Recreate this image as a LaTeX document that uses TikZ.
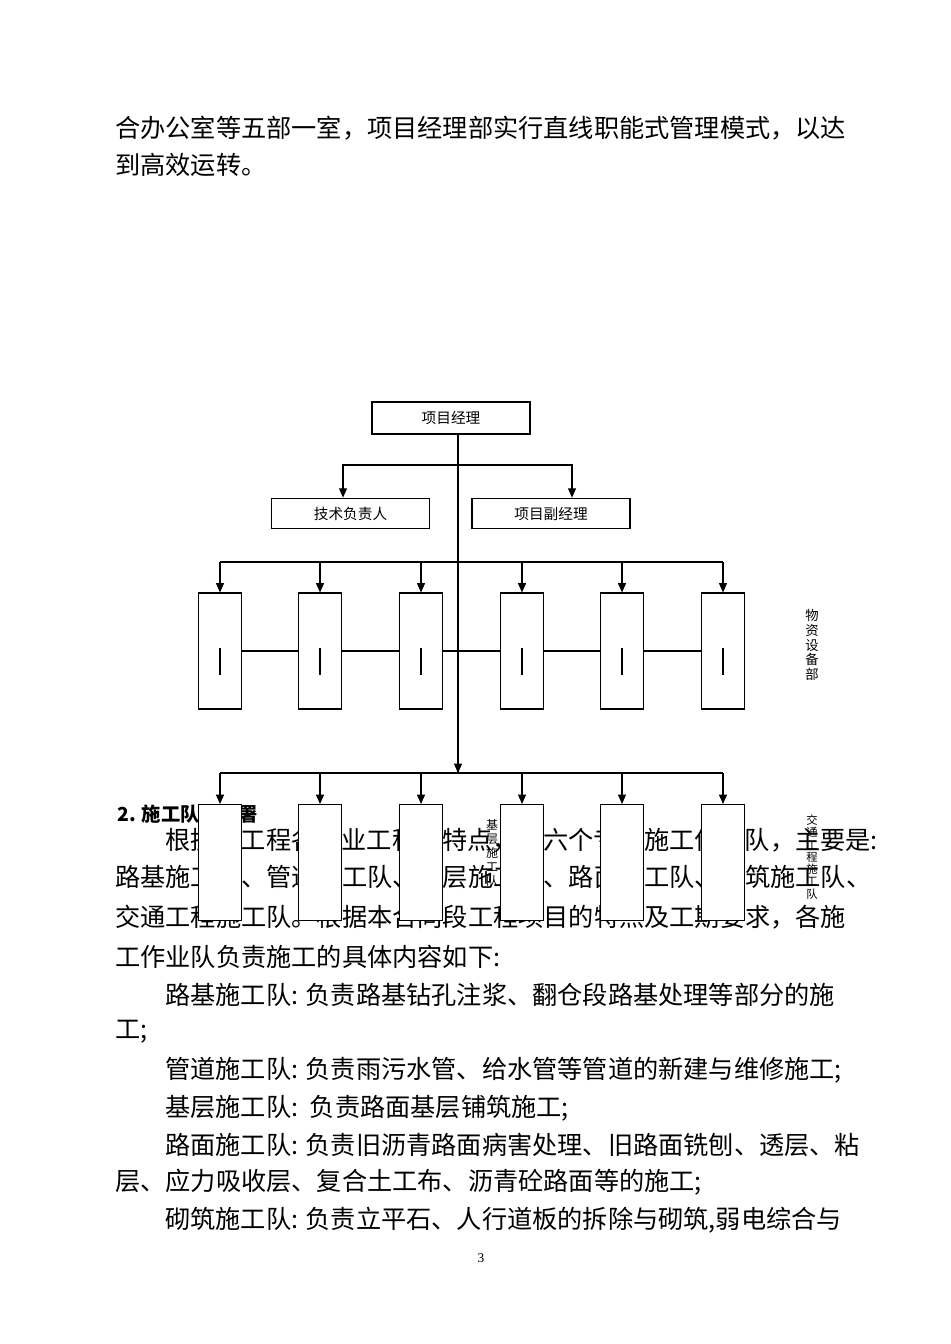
\documentclass[tikz,border=0pt]{standalone}
\usepackage{fontspec}
\setmainfont{Liberation Serif}
\newfontfamily\cjk{Noto Sans CJK SC}
\usetikzlibrary{arrows.meta}
\begin{document}
\begin{tikzpicture}[x=0.75pt,y=-0.75pt,
  body/.style={anchor=west,inner sep=0pt,font=\cjk\fontsize{18.9}{20}\selectfont},
  bx/.style={draw,line width=0.8pt,fill=white,inner sep=0pt,font=\cjk\fontsize{11}{13}\selectfont},
  col/.style={bx,minimum width=32pt,minimum height=87pt},
  ln/.style={line width=0.8pt},
  ar/.style={ln,-{Triangle[length=7pt,width=6pt]}},
  vt/.style={align=center,inner sep=0pt,font=\cjk\fontsize{10}{11}\selectfont}]
\useasboundingbox (0,0) rectangle (950,1344);
% body text
\node[body] (t1) at (115,128) {合办公室等五部一室，项目经理部实行直线职能式管理模式，以达};
\node[body] (t2) at (115,165) {到高效运转。};
\node[anchor=west,inner sep=0pt,font=\cjk\bfseries\fontsize{14.5}{16}\selectfont] (h2) at (117,814) {2. 施工队伍部署};
\node[body] (t3) at (165,840) {根据本工程各专业工程的特点，设六个专业施工作业队，主要是:};
\node[body] (t4) at (115,877) {路基施工队、管道施工队、基层施工队、路面施工队、砌筑施工队、};
\node[body] (t5) at (115,917) {交通工程施工队。根据本合同段工程项目的特点及工期要求，各施};
\node[body] (t6) at (115,957) {工作业队负责施工的具体内容如下:};
\node[body] (t7) at (165,995) {路基施工队: 负责路基钻孔注浆、翻仓段路基处理等部分的施};
\node[body] (t8) at (115,1032) {工;};
\node[body] (t9) at (165,1070) {管道施工队: 负责雨污水管、给水管等管道的新建与维修施工;};
\node[body] (t10) at (165,1108) {基层施工队: \,负责路面基层铺筑施工;};
\node[body] (t11) at (165,1145) {路面施工队: 负责旧沥青路面病害处理、旧路面铣刨、透层、粘};
\node[body] (t12) at (115,1182) {层、应力吸收层、复合土工布、沥青砼路面等的施工;};
\node[body] (t13) at (165,1220) {砌筑施工队: 负责立平石、人行道板的拆除与砌筑,弱电综合与};
\node[inner sep=0pt,font=\fontsize{10}{12}\selectfont] (pg) at (481,1258) {3};
% diagram
\node[bx,minimum width=118.5pt,minimum height=24pt] (pm) at (451,418) {项目经理};
\node[bx,minimum width=119pt,minimum height=23pt] (tech) at (350.5,513.5) {技术负责人};
\node[bx,minimum width=118.5pt,minimum height=23pt] (dep) at (551,513.5) {项目副经理};
\coordinate (c1) at (458,465);
\coordinate (c2) at (458,562);
\coordinate (c3) at (458,773);
\draw[ln] (pm.south -| c1) -- (c3);
\draw[ar] (c1) -| (tech.north -| 343,0);
\draw[ar] (c1) -| (dep.north -| 572,0);
\foreach \i/\x in {1/220,2/320,3/421,4/522,5/622,6/723}{
  \node[col] (u\i) at (\x,651) {};
  \draw[ln] (\x,648) -- (\x,675);
  \node[col] (l\i) at (\x,862.5) {};
}
\draw[ln] (u1) -- (u2) -- (u3) -- (u4) -- (u5) -- (u6);
\draw[ln] (u1.north |- c2) -- (u6.north |- c2);
\draw[ln] (l1.north |- c3) -- (l6.north |- c3);
\foreach \i in {1,...,6}{
  \draw[ar] (u\i.north |- c2) -- (u\i.north);
  \draw[ar] (l\i.north |- c3) -- (l\i.north);
}
\draw[ar] (c2) -- (c3);
\node[vt] (wz) at (812,645) {物\\资\\设\\备\\部};
\node[vt,font=\cjk\fontsize{9}{10.5}\selectfont] (jc) at (492,853) {基\\层\\施\\工\\队};
\node[vt,font=\cjk\fontsize{8.5}{9.2}\selectfont] (jt) at (812,857) {交\\通\\工\\程\\施\\工\\队};
\end{tikzpicture}
\end{document}
